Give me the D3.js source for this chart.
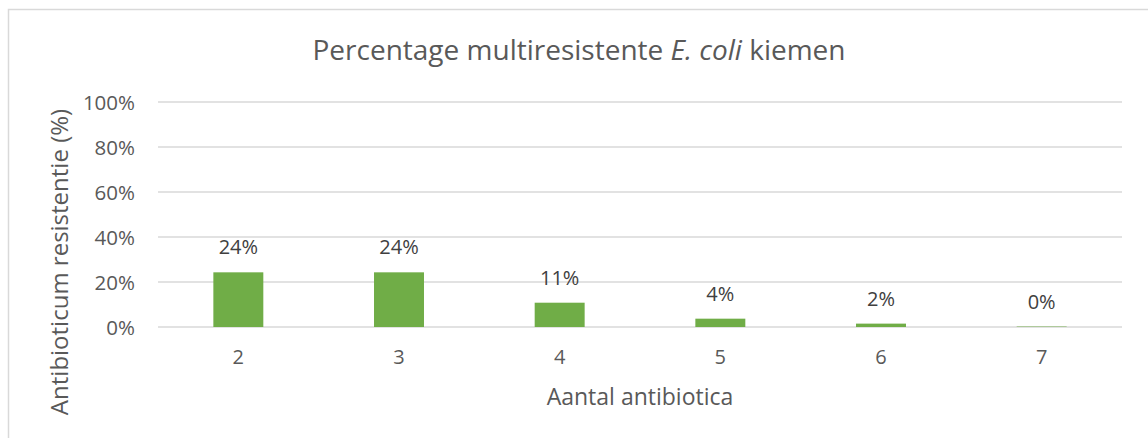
<!DOCTYPE html>
<meta charset="utf-8">
<script src="https://d3js.org/d3.v7.min.js"></script>
<style>
  body { margin: 0; background: #fff; }
  text { font-family: "Open Sans", sans-serif; fill: #595959; }
</style>
<svg width="1148" height="438"></svg>
<script>
// data
var categories = ["2", "3", "4", "5", "6", "7"];
var values = [24.3, 24.3, 10.8, 3.7, 1.5, 0.2];
var labels = ["24%", "24%", "11%", "4%", "2%", "0%"];
var yTicks = [0, 20, 40, 60, 80, 100];

var svg = d3.select("svg");

// chart frame (runs off the right and bottom of the picture)
svg.append("rect")
  .attr("x", 8.5).attr("y", 9.5)
  .attr("width", 1300).attr("height", 600)
  .attr("fill", "none")
  .attr("stroke", "#d9d9d9")
  .attr("stroke-width", 1.5);

// plot area edges (note: "top" is a reserved window global, so don't use it)
var plotLeft = 158, plotRight = 1122, plotTop = 102, plotBottom = 327;

var x = d3.scaleBand()
  .domain(categories)
  .range([plotLeft, plotRight])
  .paddingInner(0.689)
  .paddingOuter(0.689 / 2);

var y = d3.scaleLinear()
  .domain([0, 100])
  .range([plotBottom, plotTop]);

// gridlines
svg.append("g")
  .selectAll("line")
  .data(yTicks)
  .enter().append("line")
    .attr("x1", plotLeft).attr("x2", plotRight)
    .attr("y1", function(d) { return y(d); })
    .attr("y2", function(d) { return y(d); })
    .attr("stroke", "#d9d9d9")
    .attr("stroke-width", 1.5);

// y axis labels
var yAxis = svg.append("g")
  .attr("transform", "translate(" + plotLeft + ",0)")
  .call(d3.axisLeft(y).tickValues(yTicks).tickFormat(function(d) { return d + "%"; }).tickSize(0).tickPadding(23));
yAxis.select(".domain").remove();
yAxis.selectAll("text")
  .style("font-size", "20.5px")
  .style("font-family", "'Open Sans', sans-serif")
  .attr("fill", "#595959")
  .attr("dy", "0.36em");

// x axis labels
var xAxis = svg.append("g")
  .attr("transform", "translate(0," + plotBottom + ")")
  .call(d3.axisBottom(x).tickSize(0).tickPadding(23));
xAxis.select(".domain").remove();
xAxis.selectAll("text")
  .style("font-size", "20px")
  .style("font-family", "'Open Sans', sans-serif")
  .attr("fill", "#595959");

// bars
svg.append("g")
  .selectAll("rect")
  .data(values)
  .enter().append("rect")
    .attr("x", function(d, i) { return x(categories[i]); })
    .attr("y", function(d) { return y(d); })
    .attr("width", x.bandwidth())
    .attr("height", function(d) { return plotBottom - y(d); })
    .attr("fill", "#70ad47");

// data labels
svg.append("g")
  .selectAll("text")
  .data(values)
  .enter().append("text")
    .attr("x", function(d, i) { return x(categories[i]) + x.bandwidth() / 2; })
    .attr("y", function(d) { return y(d) - 18; })
    .attr("text-anchor", "middle")
    .style("font-size", "20px")
    .style("fill", "#404040")
    .text(function(d, i) { return labels[i]; });

// title
var title = svg.append("text")
  .attr("x", 579)
  .attr("y", 60)
  .attr("text-anchor", "middle")
  .style("font-size", "28px");
title.append("tspan").text("Percentage multiresistente ");
title.append("tspan").style("font-style", "italic").text("E. coli");
title.append("tspan").text(" kiemen");

// axis titles
svg.append("text")
  .attr("x", 640)
  .attr("y", 405)
  .attr("text-anchor", "middle")
  .style("font-size", "23px")
  .text("Aantal antibiotica");

svg.append("text")
  .attr("transform", "translate(68,262) rotate(-90)")
  .attr("text-anchor", "middle")
  .style("font-size", "24px")
  .text("Antibioticum resistentie (%)");
</script>
